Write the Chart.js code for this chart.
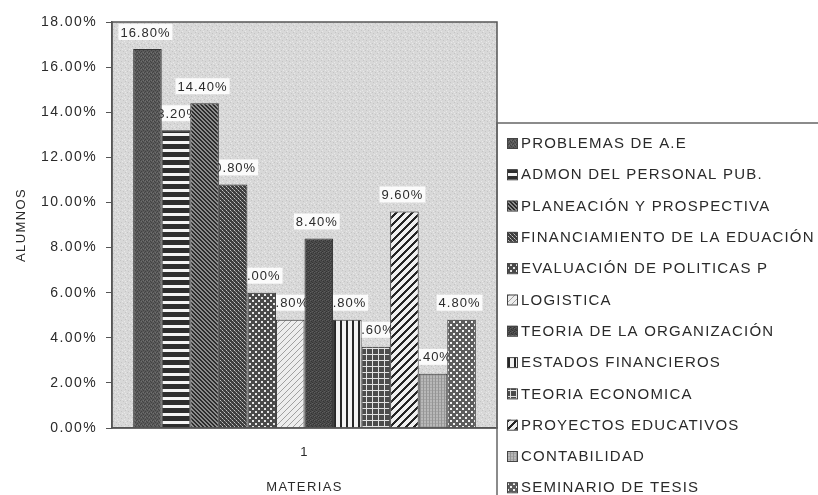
<!DOCTYPE html>
<html>
<head>
<meta charset="utf-8">
<script src="https://cdn.jsdelivr.net/npm/chart.js@4.4.1/dist/chart.umd.min.js"></script>
<style>
  html, body { margin: 0; background: #fff; }
</style>
</head>
<body>
<canvas id="chart" width="818" height="495"></canvas>
<script>
// ================================
// DATA
// ================================
const categories = ["1"];
const materias = [
  "PROBLEMAS DE A.E",
  "ADMON DEL PERSONAL PUB.",
  "PLANEACIÓN Y PROSPECTIVA",
  "FINANCIAMIENTO DE LA EDUACIÓN",
  "EVALUACIÓN DE POLITICAS P",
  "LOGISTICA",
  "TEORIA DE LA ORGANIZACIÓN",
  "ESTADOS FINANCIEROS",
  "TEORIA ECONOMICA",
  "PROYECTOS EDUCATIVOS",
  "CONTABILIDAD",
  "SEMINARIO DE TESIS"
];
const porcentajes = [16.8, 13.2, 14.4, 10.8, 6.0, 4.8, 8.4, 4.8, 3.6, 9.6, 2.4, 4.8];
const yTicks = [0, 2, 4, 6, 8, 10, 12, 14, 16, 18];

// ================================
// PATTERNS (scanned grey look)
// ================================
const ctx = document.getElementById("chart").getContext("2d");

function makePattern(w, h, draw) {
  const c = document.createElement("canvas");
  c.width = w; c.height = h;
  const g = c.getContext("2d");
  draw(g, w, h);
  return ctx.createPattern(c, "repeat");
}
function px(g, col, pts) {
  g.fillStyle = col;
  pts.forEach(p => g.fillRect(p[0], p[1], p[2] || 1, p[3] || 1));
}

const patterns = [
  // problemas
  makePattern(4, 4, (g) => {
    g.fillStyle = "#5a5a5a"; g.fillRect(0, 0, 4, 4);
    px(g, "#424242", [[0,0],[2,1],[1,3],[3,2]]);
    px(g, "#707070", [[1,1],[3,0]]);
  }),
  // admon: horizontal stripes
  makePattern(4, 8, (g) => {
    g.fillStyle = "#2e2e2e"; g.fillRect(0, 0, 4, 8);
    g.fillStyle = "#f4f4f4"; g.fillRect(0, 5, 4, 3);
  }),
  // planeacion: dense "\" diagonals
  makePattern(4, 4, (g) => {
    g.fillStyle = "#8c8c8c"; g.fillRect(0, 0, 4, 4);
    for (let i = 0; i < 4; i++) px(g, "#2c2c2c", [[i, i], [(i + 1) % 4, i]]);
  }),
  // financiamiento: fine check
  makePattern(4, 4, (g) => {
    g.fillStyle = "#3e3e3e"; g.fillRect(0, 0, 4, 4);
    px(g, "#c4c4c4", [[0,0],[2,2]]);
    px(g, "#8a8a8a", [[1,1],[3,3]]);
  }),
  // evaluacion: checker dots
  makePattern(6, 6, (g) => {
    g.fillStyle = "#4a4a4a"; g.fillRect(0, 0, 6, 6);
    px(g, "#e6e6e6", [[0,0,2,2],[3,3,2,2]]);
  }),
  // logistica: light "/" diagonals
  makePattern(6, 6, (g) => {
    g.fillStyle = "#ededed"; g.fillRect(0, 0, 6, 6);
    for (let i = 0; i < 6; i++) px(g, "#a0a0a0", [[5 - i, i]]);
  }),
  // teoria de la organizacion
  makePattern(4, 4, (g) => {
    g.fillStyle = "#4a4a4a"; g.fillRect(0, 0, 4, 4);
    px(g, "#353535", [[1,0],[3,1],[0,2],[2,3]]);
    px(g, "#5e5e5e", [[2,0],[0,3]]);
  }),
  // estados financieros: vertical stripes
  makePattern(6, 4, (g) => {
    g.fillStyle = "#f2f2f2"; g.fillRect(0, 0, 6, 4);
    g.fillStyle = "#262626"; g.fillRect(4, 0, 2, 4);
  }),
  // teoria economica: white grid
  makePattern(6, 6, (g) => {
    g.fillStyle = "#4c4c4c"; g.fillRect(0, 0, 6, 6);
    g.fillStyle = "#e2e2e2"; g.fillRect(0, 0, 6, 1); g.fillRect(0, 0, 1, 6);
  }),
  // proyectos educativos: bold "/" diagonals
  makePattern(8, 8, (g) => {
    g.fillStyle = "#f0f0f0"; g.fillRect(0, 0, 8, 8);
    for (let i = 0; i < 8; i++) {
      px(g, "#252525", [[(7 - i) % 8, i], [(8 - i) % 8, i], [(9 - i) % 8, i]]);
    }
  }),
  // contabilidad: light grey fine grid
  makePattern(3, 3, (g) => {
    g.fillStyle = "#b8b8b8"; g.fillRect(0, 0, 3, 3);
    px(g, "#959595", [[0,0,1,3]]);
    px(g, "#a6a6a6", [[1,0,2,1]]);
  }),
  // seminario de tesis: checker dots
  makePattern(6, 6, (g) => {
    g.fillStyle = "#5c5c5c"; g.fillRect(0, 0, 6, 6);
    px(g, "#f2f2f2", [[0,0,2,2],[3,3,2,2]]);
  })
];

const plotBg = makePattern(7, 7, (g) => {
  g.fillStyle = "#d8d8d8"; g.fillRect(0, 0, 7, 7);
  px(g, "#c4c4c4", [[1,1],[4,2],[2,5],[6,4]]);
  px(g, "#e8e8e8", [[3,0],[0,3],[5,6],[6,1]]);
});

const FONT = "'Liberation Sans', Arial, sans-serif";
const TEXT = "#2a2a2a";

// ================================
// PLUGINS
// ================================
const scanLook = {
  id: "scanLook",
  beforeLayout(chart) { chart.ctx.letterSpacing = "1.4px"; },
  beforeDraw(chart) {
    const { ctx, chartArea: a } = chart;
    ctx.letterSpacing = "1.4px";
    ctx.save();
    ctx.fillStyle = plotBg;
    ctx.fillRect(a.left, a.top, a.right - a.left, a.bottom - a.top);
    ctx.restore();
  },
  // value labels sit under the bars, like the original
  beforeDatasetsDraw(chart) {
    const { ctx } = chart;
    ctx.save();
    ctx.font = "13px " + FONT;
    ctx.letterSpacing = "1px";
    ctx.textAlign = "center";
    ctx.textBaseline = "middle";
    chart.data.datasets.forEach((ds, i) => {
      const bar = chart.getDatasetMeta(i).data[0];
      const txt = ds.data[0].toFixed(2) + "%";
      const w = ctx.measureText(txt).width + 4;
      const y = bar.y - 17;
      ctx.fillStyle = "#fbfbfb";
      ctx.fillRect(bar.x - w / 2 - 2, y - 8, w, 16);
      ctx.fillStyle = TEXT;
      ctx.fillText(txt, bar.x - 2, y + 1);
    });
    ctx.restore();
  },
  afterDraw(chart) {
    const { ctx, chartArea: a } = chart;
    ctx.save();
    ctx.strokeStyle = "#555";
    ctx.lineWidth = 1.5;
    ctx.strokeRect(a.left, a.top, a.right - a.left, a.bottom - a.top);

    // legend box
    const lx = a.right, ly = 123;
    ctx.strokeStyle = "#666";
    ctx.strokeRect(lx, ly, 830 - lx, 400);
    ctx.font = "15px " + FONT;
    ctx.letterSpacing = "1.2px";
    ctx.textBaseline = "middle";
    ctx.textAlign = "left";
    chart.data.datasets.forEach((ds, i) => {
      const y = 143 + i * 31.3;
      ctx.fillStyle = ds.backgroundColor;
      ctx.fillRect(lx + 10, y - 5, 10, 10);
      ctx.lineWidth = 1;
      ctx.strokeStyle = "#444";
      ctx.strokeRect(lx + 10.5, y - 4.5, 10, 10);
      ctx.fillStyle = TEXT;
      ctx.fillText(ds.label, lx + 24, y + 1);
    });
    ctx.restore();
  }
};

// ================================
// CHART
// ================================
new Chart(ctx, {
  type: "bar",
  data: {
    labels: categories,
    datasets: materias.map((m, i) => ({
      label: m,
      data: [porcentajes[i]],
      backgroundColor: patterns[i],
      borderColor: "#333",
      borderWidth: 1,
      barPercentage: 1,
      categoryPercentage: 0.89
    }))
  },
  options: {
    responsive: false,
    animation: false,
    events: [],
    layout: { padding: { top: 22, right: 321, left: 0, bottom: 0 } },
    plugins: {
      legend: { display: false },
      tooltip: { enabled: false }
    },
    scales: {
      x: {
        grid: { display: false, drawTicks: false },
        border: { display: true, color: "#555", width: 1.5 },
        ticks: { color: TEXT, padding: 17, font: { family: FONT, size: 13 } },
        title: {
          display: true, text: "MATERIAS", color: TEXT,
          font: { family: FONT, size: 13 }, padding: { top: 0, bottom: 0 }
        },
        afterFit(scale) { scale.height = 67; }
      },
      y: {
        min: 0,
        max: 18,
        afterBuildTicks(scale) { scale.ticks = yTicks.map(v => ({ value: v })); },
        grid: { drawOnChartArea: false, drawTicks: true, tickLength: 6, color: "#555" },
        border: { display: true, color: "#555", width: 1.5 },
        ticks: {
          color: TEXT, padding: 9, font: { family: FONT, size: 14 },
          callback: v => v.toFixed(2) + "%"
        },
        title: {
          display: true, text: "ALUMNOS", color: TEXT,
          font: { family: FONT, size: 13 }, padding: { top: 14, bottom: 0 }
        },
        afterFit(scale) { scale.width = 112; }
      }
    }
  },
  plugins: [scanLook]
});
</script>
</body>
</html>
